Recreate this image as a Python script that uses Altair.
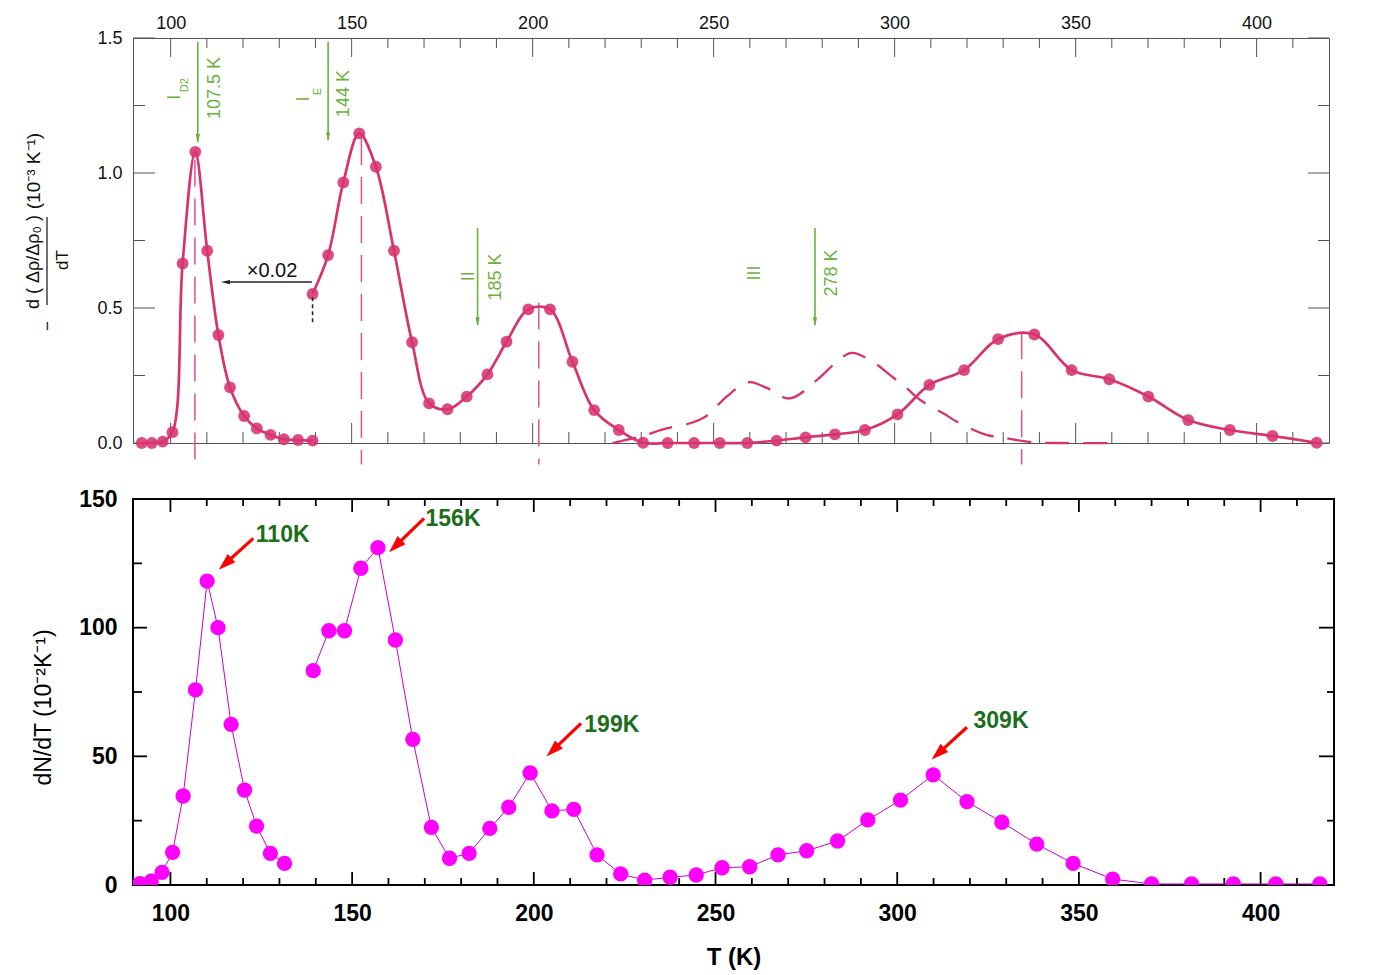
import math
import altair as alt
import pandas as pd

# ---------------- data ----------------
# Top panel: -d(Δρ/Δρ0)/dT, first segment (scaled ×0.02) and second segment
top_T1 = [92.0, 94.8, 97.8, 100.5, 103.3, 106.8, 110.1, 113.2, 116.4, 120.3, 123.8, 127.6, 131.3, 135.2, 139.2]
top_v1 = [0.0, 0.0, 0.005, 0.04, 0.665, 1.078, 0.712, 0.40, 0.206, 0.10, 0.054, 0.03, 0.014, 0.011, 0.009]
top_T2 = [139.2, 143.5, 147.7, 152.1, 156.7, 161.7, 166.7, 171.4, 176.5, 181.8, 187.5, 192.8, 198.8,
          204.8, 211.0, 217.0, 223.8, 230.5, 237.3, 244.6, 251.7, 259.3, 267.4, 275.4, 283.5, 291.8,
          300.8, 309.6, 319.2, 328.6, 338.6, 348.9, 359.3, 370.1, 381.1, 392.6, 404.4, 416.6]
top_v2 = [0.552, 0.696, 0.965, 1.147, 1.023, 0.712, 0.373, 0.147, 0.125, 0.172, 0.254, 0.375, 0.495,
          0.495, 0.301, 0.122, 0.048, 0.001, 0.0, 0.0, 0.0, 0.0, 0.009, 0.021, 0.032, 0.048,
          0.106, 0.215, 0.27, 0.385, 0.402, 0.27, 0.236, 0.172, 0.085, 0.048, 0.026, 0.001]
# dashed curve
dash_T = [222, 230, 237, 244, 248, 253.6, 259.6, 264.5, 271, 278.5, 284, 288.1, 294, 298.7, 303.3,
          307, 313.4, 318, 325.4, 330, 337.4, 345, 360]
dash_v = [0.0, 0.025, 0.054, 0.075, 0.10, 0.172, 0.225, 0.205, 0.165, 0.233, 0.30, 0.334, 0.30, 0.252,
          0.203, 0.16, 0.11, 0.073, 0.03, 0.02, 0.004, 0.0, 0.0]
# dashed peak markers
peak_T = [106.7, 152.7, 201.7, 335.1]
peak_top = [1.05, 1.13, 0.52, 0.41]
peak_bot = [-0.08, -0.08, -0.08, -0.08]
# green arrows
garr_T = [107.5, 143.5, 184.8, 278.0]
garr_from = [1.486, 1.486, 0.796, 0.796]
garr_to = [1.116, 1.122, 0.437, 0.437]
glab_text = ["107.5 K", "144 K", "185 K", "278 K"]
glab_T = [112.2, 147.9, 189.9, 282.6]
glab_v = [1.315, 1.294, 0.615, 0.630]
gname_text = ["I", "I", "II", "III"]
gname_T = [101.2, 136.8, 182.4, 261.3]
gname_v = [1.281, 1.274, 0.618, 0.630]
gsub_text = ["D2", "E"]
gsub_T = [104.0, 140.6]
gsub_v = [1.325, 1.302]
# scale-factor arrow
sc_text = ["×0.02"]
sc_T = [128.0]
sc_v = [0.637]
sc_from_T = [139.0]
sc_to_T = [114.2]
sc_arrow_v = [0.596]

# Bottom panel: dN/dT
bot_T1 = [91.6, 94.7, 97.7, 100.6, 103.5, 106.9, 110.1, 113.1, 116.7, 120.4, 123.7, 127.5, 131.4]
bot_v1 = [0.5, 1.5, 4.9, 12.7, 34.6, 75.8, 118.1, 100.0, 62.4, 36.9, 22.9, 12.3, 8.4]
bot_T2 = [139.3, 143.6, 147.9, 152.4, 157.1, 161.9, 166.7, 171.8, 176.8, 182.2, 187.9, 193.1, 199.0,
          205.0, 211.0, 217.4, 223.9, 230.5, 237.5, 244.7, 251.8, 259.4, 267.2, 275.1, 283.6, 291.9,
          300.9, 309.9, 319.2, 328.8, 338.4, 348.4, 359.3, 370.0, 381.0, 392.5, 404.2, 416.3]
bot_v2 = [83.3, 98.8, 98.8, 123.1, 131.1, 95.2, 56.6, 22.4, 10.4, 12.3, 22.0, 30.2, 43.6,
          28.8, 29.4, 11.7, 4.3, 1.9, 3.0, 3.9, 6.7, 7.1, 11.7, 13.3, 17.1, 25.3,
          33.0, 42.8, 32.4, 24.4, 15.9, 8.4, 2.3, 0.4, 0.4, 0.4, 0.4, 0.4]
ann_text = ["110K", "156K", "199K", "309K"]
ann_T = [123.5, 170.2, 213.9, 321.0]
ann_v = [136.0, 142.2, 62.2, 63.9]
arr_T0 = [122.8, 169.8, 213.0, 319.2]
arr_v0 = [134.7, 142.5, 62.8, 61.3]
arr_T1 = [113.4, 160.3, 203.6, 309.6]
arr_v1 = [122.7, 129.5, 50.1, 48.9]

major_T = [100, 150, 200, 250, 300, 350, 400]
minor_T = [t for t in range(110, 420, 10) if t % 50 != 0]
top_major_v = [0.0, 0.5, 1.0, 1.5]
top_minor_v = [0.25, 0.75, 1.25]
bot_major_v = [0, 50, 100, 150]
bot_minor_v = [25, 75, 125]

# ---------------- layout / style ----------------
W1, H1 = 1196, 405
W2, H2 = 1201, 386
TOP_DOM = [89.6, 420.0]
BOT_DOM = [89.7, 420.2]
FONT = "Liberation Sans"
PINK = "#d7336f"
GREEN = "#6ab23e"
GRAY = "#555555"


def df(**kw):
    return pd.DataFrame(kw)


# ---------- top panel ----------
X1 = alt.X("T:Q", scale=alt.Scale(domain=TOP_DOM, nice=False, zero=False),
           axis=alt.Axis(orient="top", values=major_T, format="d", ticks=False, domain=False,
                         grid=False, labelFontSize=18, labelFont=FONT, labelColor="#111",
                         labelPadding=6, title=None))
Y1 = alt.Y("v:Q", scale=alt.Scale(domain=[0, 1.5], nice=False, zero=False),
           axis=alt.Axis(values=top_major_v, format=".1f", ticks=False, domain=False, grid=False,
                         labelFontSize=18, labelFont=FONT, labelColor="#111", labelPadding=11,
                         title=None))

top_layers = []
# invisible anchor fixing the left extent of the layout
top_layers.append(alt.Chart(df(t=["anchor"])).mark_rule(opacity=0, strokeWidth=1).encode(
    x=alt.value(-124.5), x2=alt.value(-120), y=alt.value(200)))
# ticks (inside)
for vals, ln in ((major_T, 19), (minor_T, 10)):
    top_layers.append(alt.Chart(df(T=vals)).mark_rule(color=GRAY, strokeWidth=1).encode(
        x=X1, y=alt.value(0), y2=alt.value(ln)))
    top_layers.append(alt.Chart(df(T=vals)).mark_rule(color=GRAY, strokeWidth=1).encode(
        x=X1, y=alt.value(H1), y2=alt.value(H1 - ln - 1)))
for vals, ln in ((top_major_v, 22), (top_minor_v, 12)):
    top_layers.append(alt.Chart(df(v=vals)).mark_rule(color=GRAY, strokeWidth=1).encode(
        y=Y1, x=alt.value(0), x2=alt.value(ln)))
    top_layers.append(alt.Chart(df(v=vals)).mark_rule(color=GRAY, strokeWidth=1).encode(
        y=Y1, x=alt.value(W1), x2=alt.value(W1 - ln + 1)))

# peak markers
top_layers.append(alt.Chart(df(T=peak_T, v=peak_top, v2=peak_bot)).mark_rule(
    color="#e2508a", strokeWidth=1.5, strokeDash=[27, 12]).encode(x=X1, y=Y1, y2="v2:Q"))
# dashed curve
top_layers.append(alt.Chart(df(T=dash_T, v=dash_v)).mark_line(
    color=PINK, strokeWidth=2.3, strokeDash=[24, 14], interpolate="catmull-rom").encode(x=X1, y=Y1))
# main curves
for Ts, vs in ((top_T1, top_v1), (top_T2, top_v2)):
    d = df(T=Ts, v=vs)
    top_layers.append(alt.Chart(d).mark_line(color=PINK, strokeWidth=2.7,
                                             interpolate="catmull-rom").encode(x=X1, y=Y1))
    top_layers.append(alt.Chart(d).mark_circle(color=PINK, size=140, opacity=0.88).encode(x=X1, y=Y1))

# green arrows
top_layers.append(alt.Chart(df(T=garr_T, v=garr_from, v2=garr_to)).mark_rule(
    color=GREEN, strokeWidth=1.6).encode(x=X1, y=Y1, y2="v2:Q"))
top_layers.append(alt.Chart(df(T=garr_T, v=[t + 0.013 for t in garr_to])).mark_point(
    shape="M0,1L0.45,-0.9L-0.45,-0.9Z", filled=True, size=90, color=GREEN, opacity=1).encode(x=X1, y=Y1))
top_layers.append(alt.Chart(df(T=glab_T, v=glab_v, t=glab_text)).mark_text(
    angle=270, color=GREEN, fontSize=18, font=FONT, align="center", baseline="middle").encode(
    x=X1, y=Y1, text="t:N"))
top_layers.append(alt.Chart(df(T=gname_T, v=gname_v, t=gname_text)).mark_text(
    angle=270, color=GREEN, fontSize=18, font=FONT, align="center", baseline="middle").encode(
    x=X1, y=Y1, text="t:N"))
top_layers.append(alt.Chart(df(T=gsub_T, v=gsub_v, t=gsub_text)).mark_text(
    angle=270, color=GREEN, fontSize=11, font=FONT, align="center", baseline="middle").encode(
    x=X1, y=Y1, text="t:N"))

# ×0.02 arrow
top_layers.append(alt.Chart(df(T=sc_from_T, T2=[t + 1.2 for t in sc_to_T], v=sc_arrow_v)).mark_rule(
    color="#222", strokeWidth=1.5).encode(x=X1, x2="T2:Q", y=Y1))
top_layers.append(alt.Chart(df(T=[t + 1.0 for t in sc_to_T], v=sc_arrow_v)).mark_point(
    shape="M-1,0L0.9,-0.45L0.9,0.45Z", filled=True, size=90, color="#222", opacity=1).encode(x=X1, y=Y1))
top_layers.append(alt.Chart(df(T=sc_T, v=sc_v, t=sc_text)).mark_text(
    color="#111", fontSize=20, font=FONT, align="center", baseline="middle").encode(
    x=X1, y=Y1, text="t:N"))
top_layers.append(alt.Chart(df(T=[139.2], v=[0.54], v2=[0.44])).mark_rule(
    color="#222", strokeWidth=1.5, strokeDash=[4, 3]).encode(x=X1, y=Y1, y2="v2:Q"))

# y-axis title built from pieces (fraction)
ytitle_parts = [("d ( Δρ/Δρ₀ )", -99, 224, 18), ("dT", -70, 222, 17),
                ("(10⁻³ K⁻¹)", -99, 133, 19), ("−", -85, 288, 17)]
for txt, px, py, fs in ytitle_parts:
    top_layers.append(alt.Chart(df(t=[txt])).mark_text(
        angle=270, fontSize=fs, font=FONT, color="#111", align="center", baseline="middle").encode(
        x=alt.value(px), y=alt.value(py), text="t:N"))
top_layers.append(alt.Chart(df(t=["bar"])).mark_rule(color="#111", strokeWidth=1.2).encode(
    x=alt.value(-86), y=alt.value(179), y2=alt.value(267)))

top = alt.layer(*top_layers).properties(
    width=W1, height=H1, view=alt.ViewBackground(stroke=GRAY, strokeWidth=1))

# ---------- bottom panel ----------
X2 = alt.X("T:Q", scale=alt.Scale(domain=BOT_DOM, nice=False, zero=False),
           axis=alt.Axis(values=major_T, format="d", ticks=False, domain=False, grid=False,
                         labelFontSize=23, labelFontWeight="bold", labelFont=FONT,
                         labelColor="black", labelPadding=17,
                         title="T  (K)", titleFontSize=24, titleFontWeight="bold", titleFont=FONT,
                         titleColor="black", titleY=72, titleBaseline="middle"))
Y2 = alt.Y("v:Q", scale=alt.Scale(domain=[0, 150], nice=False, zero=False),
           axis=alt.Axis(values=bot_major_v, format="d", ticks=False, domain=False, grid=False,
                         labelFontSize=23, labelFontWeight="bold", labelFont=FONT,
                         labelColor="black", labelPadding=16,
                         title="dN/dT (10⁻²K⁻¹)", titleFontSize=23, titleFontWeight="normal",
                         titleFont=FONT, titleColor="black", titleX=-90, titleY=208,
                         titleBaseline="middle"))

bot_layers = []
for vals, ln in ((major_T, 13), (minor_T, 7)):
    bot_layers.append(alt.Chart(df(T=vals)).mark_rule(color="black", strokeWidth=1.8).encode(
        x=X2, y=alt.value(0), y2=alt.value(ln)))
    bot_layers.append(alt.Chart(df(T=vals)).mark_rule(color="black", strokeWidth=1.8).encode(
        x=X2, y=alt.value(H2), y2=alt.value(H2 - ln)))
for vals, lnl, lnr in ((bot_major_v, 14, 15), (bot_minor_v, 9, 7)):
    bot_layers.append(alt.Chart(df(v=vals)).mark_rule(color="black", strokeWidth=1.8).encode(
        y=Y2, x=alt.value(0), x2=alt.value(lnl)))
    bot_layers.append(alt.Chart(df(v=vals)).mark_rule(color="black", strokeWidth=1.8).encode(
        y=Y2, x=alt.value(W2), x2=alt.value(W2 - lnr)))

for Ts, vs in ((bot_T1, bot_v1), (bot_T2, bot_v2)):
    d = df(T=Ts, v=vs)
    bot_layers.append(alt.Chart(d).mark_line(color="#cc00cc", strokeWidth=1, clip=True).encode(x=X2, y=Y2))
    bot_layers.append(alt.Chart(d).mark_circle(color="#ff00ff", size=235, opacity=1, clip=True).encode(x=X2, y=Y2))

# red arrows
sx = W2 / (BOT_DOM[1] - BOT_DOM[0])
sy = H2 / 150.0
head_len = 8.5
rows = []
for T0, v0, T1, v1 in zip(arr_T0, arr_v0, arr_T1, arr_v1):
    dxp = (T0 - T1) * sx
    dyp = -(v0 - v1) * sy
    L = math.hypot(dxp, dyp)
    ux, uy = dxp / L, dyp / L
    cT = T1 + head_len * ux / sx
    cv = v1 - head_len * uy / sy
    ang = (math.degrees(math.atan2(-ux, uy)) + 360) % 360
    rows.append((T0, v0, cT, cv, ang))
arr_df = pd.DataFrame(rows, columns=["T", "v", "T2", "v2", "ang"])
bot_layers.append(alt.Chart(arr_df).mark_rule(color="#ff0000", strokeWidth=3.2).encode(
    x=X2, y=Y2, x2="T2:Q", y2="v2:Q"))
head_df = pd.DataFrame({"T": arr_df["T2"], "v": arr_df["v2"], "ang": arr_df["ang"]})
bot_layers.append(alt.Chart(head_df).mark_point(
    shape="M0,-1L0.62,0.9L-0.62,0.9Z", filled=True, size=330, color="#ff0000", opacity=1).encode(
    x=X2, y=Y2, angle=alt.Angle("ang:Q", scale=None)))
bot_layers.append(alt.Chart(df(T=ann_T, v=ann_v, t=ann_text)).mark_text(
    align="left", baseline="middle", fontSize=23, fontWeight="bold", font=FONT, color="#1c6e1c").encode(
    x=X2, y=Y2, text="t:N"))

bottom = alt.layer(*bot_layers).properties(
    width=W2, height=H2, view=alt.ViewBackground(stroke="black", strokeWidth=2))

chart = alt.vconcat(top, bottom, spacing=21).resolve_scale(
    x="independent", y="independent").properties(
    padding={"left": 0, "top": 5, "right": 5, "bottom": 0},
    background="white")

chart.save("out.html", embed_options={"renderer": "svg", "actions": False})
